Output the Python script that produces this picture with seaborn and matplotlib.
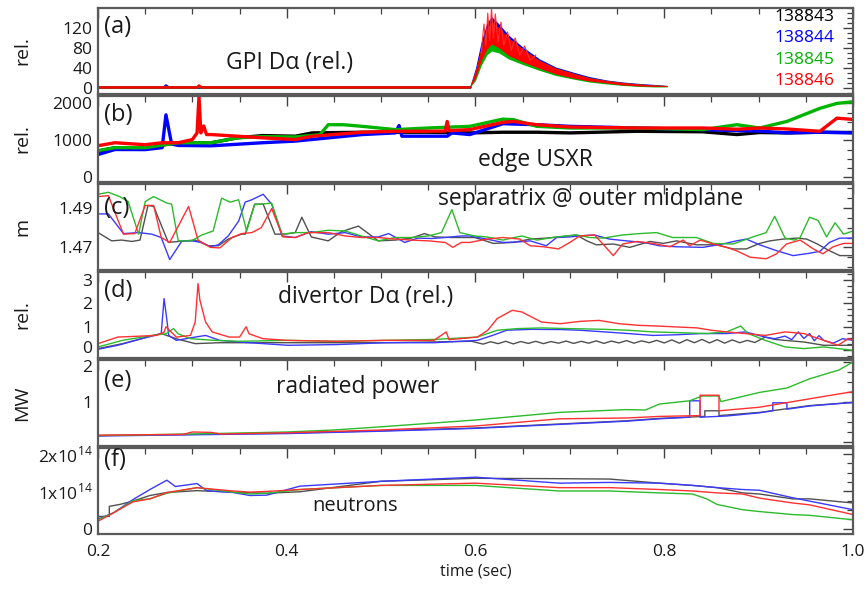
import matplotlib
matplotlib.use("Agg")
import matplotlib.pyplot as plt
import matplotlib.transforms as mtransforms
import seaborn as sns
import pandas as pd
from matplotlib.ticker import MultipleLocator

sns.set_theme(style="white")
plt.rcParams["font.family"] = ["Open Sans", "DejaVu Sans"]
plt.rcParams["mathtext.fontset"] = "custom"
plt.rcParams["mathtext.rm"] = "Open Sans"

shots = ["138843", "138844", "138845", "138846"]
thick_colors = ["#000000", "#0000ff", "#00b400", "#ff0000"]
thin_colors = ["#505050", "#3a3aff", "#2cbb2c", "#ff3030"]
x_ticks = [0.2, 0.4, 0.6, 0.8, 1.0]
x_tick_labels = ["0.2", "0.4", "0.6", "0.8", "1.0"]

# ---------------- (a) GPI D-alpha ----------------
a_base_t = [0.2, 0.27, 0.272, 0.275, 0.305, 0.307, 0.31, 0.594]
a_base_k = [1, 1, 1, 1, 1, 1, 1, 1]
a_base_b = [1, 1, 5, 1, 1, 1, 1, 1]
a_base_g = [1, 1, 2, 1, 1, 2, 1, 1]
a_base_r = [1, 1, 1, 1, 1, 5, 1, 1]
gpi_t = [0.594, 0.600, 0.606, 0.612, 0.617, 0.625, 0.635, 0.650, 0.668,
         0.685, 0.703, 0.720, 0.739, 0.756, 0.774, 0.790, 0.803]
gpi_red_lo = [1, 20, 55, 78, 88, 80, 65, 52, 39, 28, 20, 14, 10, 6, 4, 3, 3]
gpi_red_hi = [3, 35, 80, 118, 132, 120, 100, 78, 55, 40, 30, 21, 15, 11, 8, 6, 5]
gpi_blue_hi = [3, 40, 92, 130, 143, 128, 106, 82, 58, 42, 32, 23, 16, 12, 9, 7, 5]
gpi_green_lo = [1, 15, 45, 66, 74, 70, 58, 47, 35, 25, 18, 12, 8, 5, 3, 2, 2]
gpi_spike_t = [0.606, 0.609, 0.611, 0.613, 0.615, 0.617, 0.619, 0.621, 0.624,
               0.627, 0.630, 0.634, 0.638, 0.642, 0.647, 0.652, 0.658, 0.664]
gpi_spike_v = [70, 128, 85, 150, 95, 160, 100, 148, 92, 132, 85, 112, 75, 100,
               66, 84, 55, 66]

# ---------------- (b) edge USXR ----------------
b_t_k = [0.2, 0.218, 0.25, 0.285, 0.32, 0.348, 0.374, 0.409, 0.427, 0.48, 0.515,
         0.55, 0.594, 0.629, 0.665, 0.70, 0.771, 0.841, 0.877, 0.901, 0.93, 0.965, 1.0]
b_k = [700, 800, 800, 933, 933, 1067, 1128, 1110, 1200, 1218, 1218, 1218, 1200,
       1218, 1218, 1200, 1244, 1230, 1155, 1210, 1200, 1218, 1210]
b_t_b = [0.2, 0.218, 0.25, 0.268, 0.272, 0.278, 0.285, 0.32, 0.348, 0.374, 0.409,
         0.48, 0.515, 0.519, 0.522, 0.55, 0.57, 0.575, 0.594, 0.629, 0.665, 0.70,
         0.771, 0.841, 0.877, 0.901, 0.93, 0.965, 1.0]
b_b = [613, 750, 747, 800, 1690, 900, 860, 850, 893, 933, 978, 1155, 1200, 1400,
       1111, 1111, 1111, 1200, 1155, 1449, 1422, 1378, 1333, 1289, 1260, 1250,
       1200, 1218, 1200]
b_t_g = [0.2, 0.218, 0.25, 0.285, 0.32, 0.348, 0.374, 0.409, 0.435, 0.444, 0.46,
         0.48, 0.515, 0.55, 0.594, 0.629, 0.64, 0.665, 0.70, 0.771, 0.841, 0.877,
         0.901, 0.93, 0.965, 0.983, 1.0]
b_g = [720, 800, 800, 933, 933, 1067, 1100, 1090, 1150, 1422, 1422, 1378, 1289,
       1333, 1378, 1573, 1560, 1378, 1333, 1333, 1289, 1422, 1333, 1511, 1867,
       2000, 2044]
b_t_r = [0.2, 0.218, 0.25, 0.268, 0.285, 0.30, 0.305, 0.307, 0.309, 0.312, 0.315,
         0.32, 0.348, 0.374, 0.409, 0.427, 0.48, 0.515, 0.55, 0.568, 0.57, 0.572,
         0.594, 0.629, 0.64, 0.665, 0.70, 0.771, 0.841, 0.877, 0.901, 0.93, 0.965,
         0.983, 1.0]
b_r = [853, 933, 880, 933, 933, 1020, 1200, 2190, 1200, 1387, 1155, 1155, 1110,
       1067, 1020, 1110, 1218, 1244, 1244, 1250, 1510, 1260, 1289, 1485, 1511,
       1422, 1360, 1333, 1333, 1300, 1333, 1306, 1244, 1600, 1565]

# ---------------- (c) separatrix ----------------
c_t_k = [0.200, 0.2145, 0.225, 0.236, 0.2445, 0.253, 0.259, 0.2745, 0.292, 0.303,
         0.317, 0.3275, 0.338, 0.352, 0.356, 0.366, 0.375, 0.3875, 0.398, 0.409,
         0.416, 0.426, 0.444, 0.458, 0.476, 0.497, 0.515, 0.532, 0.546, 0.557,
         0.575, 0.599, 0.608, 0.619, 0.640, 0.658, 0.675, 0.689, 0.707, 0.718,
         0.728, 0.746, 0.7635, 0.785, 0.799, 0.813, 0.834, 0.855, 0.873, 0.887,
         0.901, 0.912, 0.926, 0.940, 0.951, 0.961, 0.975, 0.986, 1.0]
c_k = [1.4775, 1.4733, 1.4737, 1.4730, 1.4737, 1.4913, 1.4908, 1.4725, 1.4733,
       1.4737, 1.4708, 1.4708, 1.4742, 1.4767, 1.4767, 1.4920, 1.4920, 1.4767,
       1.4767, 1.4775, 1.4853, 1.4753, 1.4733, 1.4780, 1.4808, 1.4733, 1.4737,
       1.4747, 1.4770, 1.4753, 1.4750, 1.4750, 1.4737, 1.4720, 1.4725, 1.4742,
       1.4747, 1.4753, 1.4763, 1.4733, 1.4713, 1.4717, 1.4700, 1.4730, 1.4720,
       1.4733, 1.4713, 1.4713, 1.4692, 1.4692, 1.4720, 1.4733, 1.4742, 1.4747,
       1.4742, 1.4720, 1.4683, 1.4658, 1.4658]
c_t_b = [0.200, 0.211, 0.227, 0.243, 0.257, 0.267, 0.276, 0.289, 0.299, 0.310,
         0.319, 0.3275, 0.338, 0.349, 0.356, 0.363, 0.375, 0.384, 0.395, 0.409,
         0.426, 0.444, 0.462, 0.479, 0.497, 0.508, 0.525, 0.539, 0.5535, 0.568,
         0.585, 0.594, 0.612, 0.629, 0.647, 0.658, 0.675, 0.686, 0.700, 0.7105,
         0.726, 0.742, 0.760, 0.778, 0.795, 0.813, 0.841, 0.862, 0.8765, 0.887,
         0.901, 0.919, 0.9365, 0.954, 0.965, 0.975, 0.986, 1.0]
c_b = [1.4870, 1.4870, 1.4770, 1.4775, 1.4767, 1.4750, 1.4638, 1.4733, 1.4733,
       1.4725, 1.4703, 1.4713, 1.4758, 1.4833, 1.4930, 1.4942, 1.4970, 1.4920,
       1.4758, 1.4750, 1.4780, 1.4767, 1.4775, 1.4753, 1.4753, 1.4770, 1.4725,
       1.4747, 1.4745, 1.4750, 1.4758, 1.4758, 1.4742, 1.4725, 1.4728, 1.4733,
       1.4708, 1.4750, 1.4753, 1.4758, 1.4763, 1.4742, 1.4733, 1.4725, 1.4708,
       1.4703, 1.4700, 1.4717, 1.4733, 1.4742, 1.4713, 1.4683, 1.4658, 1.4670,
       1.4680, 1.4725, 1.4747, 1.4747]
c_t_g = [0.200, 0.211, 0.223, 0.232, 0.243, 0.250, 0.259, 0.273, 0.278, 0.285,
         0.299, 0.310, 0.322, 0.331, 0.340, 0.349, 0.3575, 0.366, 0.384, 0.395,
         0.409, 0.426, 0.444, 0.462, 0.479, 0.497, 0.515, 0.532, 0.550, 0.564,
         0.575, 0.5835, 0.599, 0.612, 0.629, 0.649, 0.665, 0.686, 0.707, 0.721,
         0.735, 0.756, 0.774, 0.792, 0.809, 0.834, 0.852, 0.873, 0.894, 0.908,
         0.917, 0.928, 0.938, 0.944, 0.954, 0.963, 0.972, 0.981, 0.990, 1.0]
c_g = [1.4970, 1.4980, 1.4958, 1.4933, 1.4767, 1.4933, 1.4958, 1.4925, 1.4920,
       1.4733, 1.4733, 1.4763, 1.4783, 1.4950, 1.4930, 1.4942, 1.4783, 1.4917,
       1.4925, 1.4767, 1.4775, 1.4775, 1.4787, 1.4783, 1.4758, 1.4733, 1.4750,
       1.4750, 1.4758, 1.4775, 1.4892, 1.4775, 1.4758, 1.4753, 1.4737, 1.4758,
       1.4737, 1.4753, 1.4763, 1.4750, 1.4747, 1.4763, 1.4770, 1.4775, 1.4750,
       1.4750, 1.4720, 1.4717, 1.4753, 1.4775, 1.4858, 1.4747, 1.4737, 1.4750,
       1.4853, 1.4837, 1.4753, 1.4825, 1.4767, 1.4783]
c_t_r = [0.200, 0.211, 0.227, 0.239, 0.250, 0.259, 0.267, 0.276, 0.296, 0.306,
         0.319, 0.329, 0.342, 0.352, 0.363, 0.373, 0.384, 0.396, 0.409, 0.423,
         0.444, 0.462, 0.479, 0.497, 0.515, 0.532, 0.550, 0.568, 0.576, 0.585,
         0.594, 0.612, 0.629, 0.647, 0.658, 0.672, 0.688, 0.700, 0.7105, 0.726,
         0.735, 0.746, 0.756, 0.771, 0.788, 0.806, 0.820, 0.827, 0.838, 0.852,
         0.866, 0.8765, 0.891, 0.908, 0.919, 0.9295, 0.944, 0.958, 0.968, 0.979,
         0.990, 1.0]
c_r = [1.4958, 1.4963, 1.4767, 1.4770, 1.4913, 1.4913, 1.4750, 1.4725, 1.4908,
       1.4737, 1.4700, 1.4697, 1.4750, 1.4770, 1.4775, 1.4800, 1.4897, 1.4753,
       1.4750, 1.4775, 1.4775, 1.4758, 1.4750, 1.4750, 1.4742, 1.4737, 1.4733,
       1.4725, 1.4700, 1.4725, 1.4725, 1.4742, 1.4750, 1.4742, 1.4708, 1.4703,
       1.4692, 1.4725, 1.4758, 1.4763, 1.4717, 1.4658, 1.4717, 1.4730, 1.4720,
       1.4703, 1.4737, 1.4708, 1.4737, 1.4717, 1.4700, 1.4683, 1.4650, 1.4642,
       1.4667, 1.4717, 1.4737, 1.4692, 1.4667, 1.4703, 1.4720, 1.4720]

# ---------------- (d) divertor D-alpha ----------------
d_t_k = [0.200, 0.226, 0.267, 0.283, 0.303, 0.329, 0.401, 0.504, 0.596,
         0.600, 0.608, 0.616, 0.624, 0.632, 0.640, 0.648, 0.656, 0.664, 0.672,
         0.680, 0.688, 0.696, 0.704, 0.712, 0.720, 0.728, 0.736, 0.744, 0.752,
         0.760, 0.768, 0.776, 0.784, 0.792, 0.800, 0.808, 0.816, 0.824, 0.832,
         0.840, 0.848, 0.856, 0.864, 0.872, 0.880, 0.888, 0.896, 0.907, 0.917,
         0.928, 0.948, 0.969, 1.0]
d_k = [0.07, 0.28, 0.71, 0.49, 0.28, 0.32, 0.32, 0.32, 0.38,
       0.34, 0.26, 0.36, 0.28, 0.38, 0.27, 0.37, 0.29, 0.38, 0.28,
       0.37, 0.30, 0.39, 0.29, 0.38, 0.30, 0.40, 0.29, 0.39, 0.31,
       0.41, 0.30, 0.40, 0.32, 0.42, 0.31, 0.44, 0.30, 0.45, 0.32,
       0.46, 0.31, 0.45, 0.30, 0.44, 0.32, 0.42, 0.33, 0.56, 0.46,
       0.42, 0.35, 0.21, 0.21]
d_t_b = [0.200, 0.221, 0.246, 0.267, 0.270, 0.272, 0.275, 0.283, 0.303, 0.314,
         0.329, 0.350, 0.401, 0.453, 0.504, 0.556, 0.602, 0.618, 0.633, 0.659,
         0.690, 0.711, 0.737, 0.762, 0.788, 0.814, 0.840, 0.866, 0.886, 0.907,
         0.917, 0.928, 0.935, 0.942, 0.948, 0.954, 0.959, 0.964, 0.969, 0.979,
         0.989, 1.0]
d_b = [0.04, 0.21, 0.49, 0.71, 2.20, 1.60, 0.63, 0.42, 0.56, 0.63, 0.42, 0.35,
       0.21, 0.24, 0.32, 0.32, 0.42, 0.63, 0.85, 0.89, 0.88, 0.85, 0.78, 0.71,
       0.63, 0.66, 0.71, 0.71, 0.78, 0.56, 0.49, 0.60, 0.45, 0.78, 0.50, 0.71,
       0.40, 0.62, 0.42, 0.30, 0.49, 0.42]
d_t_g = [0.200, 0.226, 0.257, 0.272, 0.280, 0.285, 0.298, 0.324, 0.350, 0.401,
         0.453, 0.504, 0.556, 0.602, 0.623, 0.644, 0.670, 0.700, 0.737, 0.762,
         0.788, 0.814, 0.845, 0.866, 0.881, 0.889, 0.907, 0.928, 0.948, 0.969,
         0.984, 1.0]
d_g = [0.14, 0.42, 0.63, 0.70, 0.92, 0.70, 0.49, 0.42, 0.38, 0.42, 0.38, 0.42,
       0.46, 0.56, 0.85, 0.92, 0.95, 0.92, 0.89, 0.85, 0.78, 0.75, 0.71, 0.78,
       1.03, 0.71, 0.42, 0.14, 0.07, 0.14, 0.07, 0.0]
d_t_r = [0.200, 0.221, 0.262, 0.270, 0.272, 0.283, 0.298, 0.303, 0.306, 0.308,
         0.314, 0.321, 0.339, 0.350, 0.357, 0.360, 0.375, 0.401, 0.453, 0.504,
         0.556, 0.569, 0.572, 0.602, 0.613, 0.623, 0.639, 0.649, 0.670, 0.690,
         0.711, 0.731, 0.752, 0.773, 0.793, 0.814, 0.835, 0.850, 0.866, 0.886,
         0.907, 0.928, 0.948, 0.969, 0.984, 0.995, 1.0]
d_r = [0.28, 0.56, 0.63, 0.77, 1.00, 0.56, 0.63, 1.20, 2.84, 2.13, 1.20, 0.78,
       0.56, 0.56, 1.00, 0.70, 0.49, 0.42, 0.38, 0.42, 0.42, 0.78, 0.45, 0.56,
       0.85, 1.35, 1.70, 1.63, 1.20, 1.13, 1.23, 1.27, 1.13, 1.06, 1.03, 0.99,
       0.95, 0.85, 0.78, 0.71, 0.63, 0.78, 0.71, 0.42, 0.21, 0.49, 0.42]

# ---------------- (e) radiated power ----------------
e_t_k = [0.2, 0.3, 0.4, 0.5, 0.6, 0.689, 0.76, 0.795, 0.843, 0.843, 0.858, 0.858,
         0.901, 0.92, 0.954, 1.0]
e_k = [0.16, 0.19, 0.22, 0.28, 0.35, 0.45, 0.53, 0.59, 0.64, 0.78, 0.78, 0.66,
       0.74, 0.80, 0.91, 0.99]
e_t_b = [0.2, 0.3, 0.4, 0.5, 0.6, 0.689, 0.76, 0.795, 0.827, 0.827, 0.838, 0.838,
         0.866, 0.901, 0.915, 0.915, 0.93, 0.93, 0.954, 1.0]
e_b = [0.15, 0.18, 0.21, 0.27, 0.34, 0.44, 0.52, 0.58, 0.62, 1.03, 1.03, 0.62,
       0.65, 0.73, 0.78, 0.98, 0.98, 0.82, 0.90, 0.99]
e_t_g = [0.2, 0.3, 0.4, 0.45, 0.5, 0.6, 0.689, 0.76, 0.78, 0.795, 0.827, 0.84,
         0.858, 0.86, 0.901, 0.93, 0.954, 0.985, 1.0]
e_g = [0.16, 0.20, 0.25, 0.30, 0.38, 0.55, 0.74, 0.81, 0.80, 0.95, 1.03, 1.15,
       1.15, 1.01, 1.24, 1.35, 1.58, 1.80, 2.00]
e_t_r = [0.2, 0.29, 0.30, 0.32, 0.33, 0.4, 0.5, 0.6, 0.689, 0.76, 0.795, 0.838,
         0.838, 0.858, 0.858, 0.901, 0.954, 1.0]
e_r = [0.17, 0.19, 0.25, 0.24, 0.20, 0.23, 0.30, 0.40, 0.58, 0.60, 0.64, 0.66,
       1.17, 1.17, 0.78, 0.87, 1.08, 1.26]

# ---------------- (f) neutrons (units of 1e14) ----------------
f_t_k = [0.2, 0.212, 0.212, 0.223, 0.237, 0.255, 0.273, 0.305, 0.343, 0.379,
         0.414, 0.5, 0.6, 0.689, 0.742, 0.795, 0.83, 0.856, 0.883, 0.901, 0.936,
         0.954, 1.0]
f_k = [0.33, 0.33, 0.60, 0.65, 0.74, 0.89, 0.97, 1.02, 0.98, 0.95, 0.99, 1.27,
       1.35, 1.34, 1.33, 1.22, 1.16, 1.10, 0.96, 0.93, 0.80, 0.80, 0.69]
f_t_b = [0.2, 0.216, 0.237, 0.255, 0.273, 0.282, 0.305, 0.315, 0.343, 0.361,
         0.379, 0.414, 0.5, 0.6, 0.689, 0.742, 0.795, 0.83, 0.856, 0.883, 0.901,
         0.936, 0.954, 1.0]
f_b = [0.26, 0.42, 0.78, 1.05, 1.30, 1.13, 1.21, 1.02, 0.97, 0.89, 0.90, 1.14,
       1.27, 1.38, 1.22, 1.24, 1.22, 1.16, 1.10, 1.05, 1.03, 0.83, 0.74, 0.51]
f_t_g = [0.2, 0.216, 0.237, 0.255, 0.273, 0.305, 0.343, 0.361, 0.379, 0.414,
         0.5, 0.6, 0.689, 0.742, 0.795, 0.83, 0.845, 0.856, 0.883, 0.901, 0.936,
         0.954, 1.0]
f_g = [0.24, 0.42, 0.75, 0.80, 0.95, 1.10, 0.98, 0.93, 0.95, 1.05, 1.16, 1.16,
       1.01, 1.01, 0.96, 0.93, 0.80, 0.65, 0.51, 0.46, 0.38, 0.36, 0.24]
f_t_r = [0.2, 0.216, 0.237, 0.255, 0.273, 0.305, 0.343, 0.361, 0.379, 0.414,
         0.5, 0.6, 0.689, 0.742, 0.795, 0.83, 0.856, 0.883, 0.901, 0.936, 0.954,
         1.0]
f_r = [0.20, 0.42, 0.72, 0.80, 0.97, 1.10, 1.01, 0.98, 1.00, 1.05, 1.16, 1.22,
       1.10, 1.10, 1.05, 1.01, 0.96, 0.93, 0.82, 0.69, 0.64, 0.38]


def long_df(pairs):
    frames = []
    for shot, (t, v) in zip(shots, pairs):
        frames.append(pd.DataFrame({"t": t, "v": v, "shot": shot}))
    return pd.concat(frames, ignore_index=True)


def draw(ax, pairs, colors, lw, scale=1.0):
    df = long_df(pairs)
    df["v"] = df["v"] * scale
    sns.lineplot(data=df, x="t", y="v", hue="shot", hue_order=shots,
                 palette=dict(zip(shots, colors)), estimator=None, sort=False,
                 legend=False, lw=lw, ax=ax)


fig = plt.figure(figsize=(8.68, 5.89), dpi=100)
gs = fig.add_gridspec(6, 1, left=0.1129, right=0.9827, top=0.9864,
                      bottom=0.0934, hspace=0.024)
axes = [fig.add_subplot(gs[i]) for i in range(6)]

# (a)
ax = axes[0]
draw(ax, [(a_base_t, a_base_k), (a_base_t, a_base_b), (a_base_t, a_base_g),
          (a_base_t, a_base_r)], thick_colors, 1.8)
ax.fill_between(gpi_t, gpi_red_lo, gpi_blue_hi, color="#0000ff", lw=0)
ax.fill_between(gpi_t, gpi_green_lo, gpi_red_hi, color="#00b400", lw=0)
ax.fill_between(gpi_t, gpi_red_lo, gpi_red_hi, color="#ff0000", lw=0)
ax.plot(gpi_spike_t, gpi_spike_v, color="#ff3030", lw=0.8)
ax.set_ylim(-12, 160)
ax.set_yticks([0, 40, 80, 120])
ax.yaxis.set_minor_locator(MultipleLocator(10))
for i, (s, c) in enumerate(zip(shots, ["#000000", "#0000ff", "#00b400", "#ff0000"])):
    ax.text(0.975, 0.894 - i * 0.247, s, color=c, fontsize=12.5,
            ha="right", va="center", transform=ax.transAxes)

# (b)
ax = axes[1]
draw(ax, [(b_t_k, b_k), (b_t_b, b_b), (b_t_g, b_g), (b_t_r, b_r)], thick_colors, 2.4)
ax.set_ylim(-130, 2200)
ax.set_yticks([0, 1000, 2000])
ax.yaxis.set_minor_locator(MultipleLocator(250))

# (c)
ax = axes[2]
draw(ax, [(c_t_k, c_k), (c_t_b, c_b), (c_t_g, c_g), (c_t_r, c_r)], thin_colors, 1.0)
ax.set_ylim(1.4585, 1.5022)
ax.set_yticks([1.47, 1.49])
ax.set_yticklabels(["1.47", "1.49"])
ax.yaxis.set_minor_locator(MultipleLocator(0.005))

# (d)
ax = axes[3]
draw(ax, [(d_t_k, d_k), (d_t_b, d_b), (d_t_g, d_g), (d_t_r, d_r)], thin_colors, 1.0)
ax.set_ylim(-0.33, 3.33)
ax.set_yticks([0, 1, 2, 3])
ax.yaxis.set_minor_locator(MultipleLocator(0.25))

# (e)
ax = axes[4]
draw(ax, [(e_t_k, e_k), (e_t_b, e_b), (e_t_g, e_g), (e_t_r, e_r)], thin_colors, 1.0)
ax.set_ylim(-0.1, 2.05)
ax.set_yticks([0, 1, 2])
ax.set_yticklabels(["", "1", "2"])
ax.yaxis.set_minor_locator(MultipleLocator(0.25))

# (f)
ax = axes[5]
draw(ax, [(f_t_k, f_k), (f_t_b, f_b), (f_t_g, f_g), (f_t_r, f_r)], thin_colors, 1.0,
     scale=1e14)
ax.set_ylim(-0.14e14, 2.16e14)
ax.set_yticks([0, 1e14, 2e14])
ax.set_yticklabels(["0", r"1x10$^{14}$", r"2x10$^{14}$"])
ax.yaxis.set_minor_locator(MultipleLocator(0.25e14))

# common axis styling (after seaborn drawing)
spine_col = "#5a5a5a"
for ax in axes:
    ax.set_facecolor("white")
    for s in ax.spines.values():
        s.set_color(spine_col)
        s.set_linewidth(1.6)
    ax.set_xlim(0.2, 1.0)
    ax.set_xticks(x_ticks)
    ax.xaxis.set_minor_locator(MultipleLocator(0.05))
    ax.tick_params(which="both", direction="in", top=True, right=True,
                   color="#404040", labelsize=12.5, labelcolor="#1a1a1a", pad=4)
    ax.tick_params(which="major", length=7, width=1.0)
    ax.tick_params(which="minor", length=4, width=0.9)
    ax.set_xlabel("")
    ax.set_ylabel("")
    if ax is not axes[-1]:
        ax.tick_params(labelbottom=False)
axes[-1].set_xticklabels(x_tick_labels)
axes[-1].tick_params(axis="x", pad=7)
axes[-1].set_xlabel("time (sec)", fontsize=11.5, color="#1a1a1a", labelpad=3)

# nudge the two crowded tick labels at the (d)/(e) boundary apart
up = mtransforms.ScaledTranslation(0, 3.0 / 100, fig.dpi_scale_trans)
down = mtransforms.ScaledTranslation(0, -3.5 / 100, fig.dpi_scale_trans)
d_ticks = axes[3].yaxis.get_major_ticks()
d_ticks[0].label1.set_transform(d_ticks[0].label1.get_transform() + up)
e_ticks = axes[4].yaxis.get_major_ticks()
e_ticks[2].label1.set_transform(e_ticks[2].label1.get_transform() + down)

# panel letters and titles
letters = ["(a)", "(b)", "(c)", "(d)", "(e)", "(f)"]
letter_y = [0.78, 0.78, 0.72, 0.78, 0.76, 0.86]
for ax, lab, y in zip(axes, letters, letter_y):
    ax.text(0.008, y, lab, fontsize=17, color="#1a1a1a", ha="left", va="center",
            transform=ax.transAxes)

titles = [("GPI D\u03b1 (rel.)", 0.254, 0.365, 16.5),
          ("edge USXR", 0.579, 0.25, 16.5),
          ("separatrix @ outer midplane", 0.652, 0.826, 16.5),
          ("divertor D\u03b1 (rel.)", 0.354, 0.71, 16.5),
          ("radiated power", 0.344, 0.69, 16.5),
          ("neutrons", 0.34, 0.32, 14.5)]
for ax, (txt, x, y, fs) in zip(axes, titles):
    ax.text(x, y, txt, fontsize=fs, color="#1a1a1a", ha="center", va="center",
            transform=ax.transAxes)

ylabels = ["rel.", "rel.", "m", "rel.", "MW", ""]
for ax, yl in zip(axes, ylabels):
    if yl:
        ax.set_ylabel(yl, fontsize=14, color="#1a1a1a")
        ax.yaxis.set_label_coords(-0.088, 0.5)

fig.savefig("out.png", dpi=100, facecolor="white")
